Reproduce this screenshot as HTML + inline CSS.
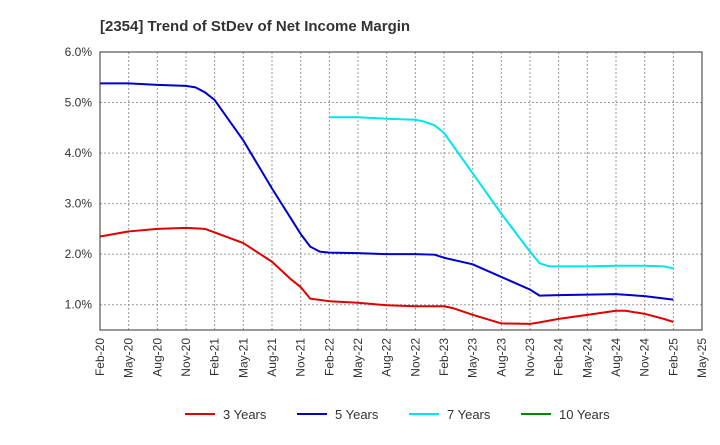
<!DOCTYPE html>
<html><head><meta charset="utf-8"><style>
body{margin:0;background:#fff;font-family:"Liberation Sans",sans-serif;}
</style></head><body>
<svg id="c" width="720" height="440" xmlns="http://www.w3.org/2000/svg">
<text x="100" y="31" font-size="15" font-weight="bold" fill="#333">[2354]  Trend of StDev of Net Income Margin</text>
<g id="grid"></g><g id="lines"></g><g id="axes"></g><g id="legend"></g>
</svg>
<script>
const yTicks=[1.0,2.0,3.0,4.0,5.0,6.0];
const xLabels=["Feb-20","May-20","Aug-20","Nov-20","Feb-21","May-21","Aug-21","Nov-21","Feb-22","May-22","Aug-22","Nov-22","Feb-23","May-23","Aug-23","Nov-23","Feb-24","May-24","Aug-24","Nov-24","Feb-25","May-25"];
const seriesNames=["3 Years","5 Years","7 Years","10 Years"];
const seriesColors=["#e00000","#0000cc","#00e5ee","#008800"];
const months3=[0,3,6,9,11,12,15,18,20,21,22,24,27,30,33,36,37,39,42,45,46,48,51,54,55,57,59,60];
const vals3=[2.35,2.45,2.5,2.52,2.5,2.43,2.22,1.85,1.5,1.35,1.12,1.07,1.04,0.99,0.97,0.97,0.93,0.8,0.63,0.62,0.65,0.72,0.8,0.88,0.88,0.82,0.72,0.66];
const months5=[0,3,6,9,10,11,12,15,18,21,22,23,24,27,30,33,35,36,39,42,45,46,48,51,54,57,60];
const vals5=[5.38,5.38,5.35,5.33,5.3,5.2,5.05,4.25,3.3,2.4,2.15,2.05,2.03,2.02,2.0,2.0,1.99,1.93,1.8,1.55,1.3,1.18,1.19,1.2,1.21,1.17,1.1];
const months7=[24,27,30,33,34,35,36,39,42,45,46,47,48,51,54,57,59,60];
const vals7=[4.71,4.71,4.68,4.66,4.62,4.55,4.4,3.6,2.8,2.05,1.82,1.76,1.76,1.76,1.77,1.77,1.76,1.72];
const months10=[];const vals10=[];
const X0=100,X1=702,Y0=330,Ymin=0.5,Ymax=6.0,Ytop=52,NM=63;
const xs=m=>X0+(X1-X0)*m/NM;
const ys=v=>Y0-(Y0-Ytop)*(v-Ymin)/(Ymax-Ymin);
const NS="http://www.w3.org/2000/svg";
function mk(t,a,p){const e=document.createElementNS(NS,t);for(const k in a)e.setAttribute(k,a[k]);p.appendChild(e);return e;}
const g=document.getElementById('grid'),ax=document.getElementById('axes'),L=document.getElementById('lines'),lg=document.getElementById('legend');
yTicks.forEach(v=>{const l=mk('line',{x1:X0,x2:X1,y1:ys(v),y2:ys(v),stroke:'#999','stroke-dasharray':'2,2'},g);

const t=mk('text',{x:X0-8,y:ys(v)+4,'text-anchor':'end','font-size':12,fill:'#333'},ax);t.textContent=v.toFixed(1)+'%';
});
xLabels.forEach((s,i)=>{const x=xs(i*3);
const l=mk('line',{x1:x,x2:x,y1:Ytop,y2:Y0,stroke:'#999','stroke-dasharray':'2,2'},g);

const t=mk('text',{x:x+4,y:Y0+8,'text-anchor':'end','font-size':12,fill:'#333',transform:`rotate(-90 ${x+4} ${Y0+8})`},ax);t.textContent=s;
});
const fr=mk('rect',{x:X0,y:Ytop,width:X1-X0,height:Y0-Ytop,fill:'none',stroke:'#333'},ax);

const S=[[months3,vals3],[months5,vals5],[months7,vals7],[months10,vals10]];
S.forEach((s,i)=>{if(!s[0].length)return;const p=mk('polyline',{points:s[0].map((m,j)=>xs(m)+','+ys(s[1][j])).join(' '),fill:'none',stroke:seriesColors[i],'stroke-width':2,'stroke-linejoin':'round'},L);
});
const lx=[185,297,409,521];
seriesNames.forEach((n,i)=>{const l=mk('line',{x1:lx[i],x2:lx[i]+30,y1:414,y2:414,stroke:seriesColors[i],'stroke-width':2},lg);

const t=mk('text',{x:lx[i]+38,y:419,'font-size':13,fill:'#333'},lg);t.textContent=n;
});
</script>
</body></html>
